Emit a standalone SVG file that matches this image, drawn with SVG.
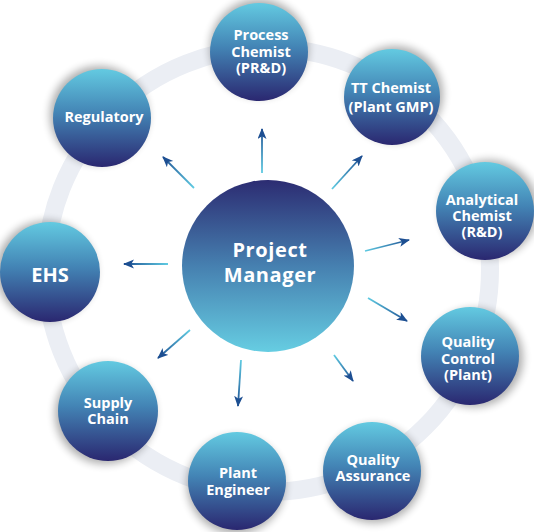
<svg xmlns="http://www.w3.org/2000/svg" xmlns:xlink="http://www.w3.org/1999/xlink" width="534" height="532" viewBox="0 0 534 532">
<style>
.lbl{font-family:"Open Sans","Liberation Sans",sans-serif;font-weight:700;font-size:14.5px;fill:#ffffff;text-anchor:middle}
.big{font-size:20px}
.pm{font-size:20px;letter-spacing:0.6px}
.node{fill:url(#og)}
.sh{fill:#000;opacity:0.32;filter:url(#blur)}
.arr{stroke-width:1.8;fill:none;marker-end:url(#ah)}
</style>
<defs>
<linearGradient id="og" x1="0" y1="0" x2="0" y2="1">
<stop offset="0" stop-color="#63cae1"/>
<stop offset="0.45" stop-color="#4384b5"/>
<stop offset="1" stop-color="#2a2770"/>
</linearGradient>
<linearGradient id="cg" x1="0" y1="0" x2="0" y2="1">
<stop offset="0" stop-color="#2c2c72"/>
<stop offset="0.5" stop-color="#4680b0"/>
<stop offset="1" stop-color="#66cde2"/>
</linearGradient>
<linearGradient id="ag">
<stop offset="0" stop-color="#5fcbe2"/>
<stop offset="1" stop-color="#1d4f92"/>
</linearGradient>
<linearGradient id="a1" href="#ag" xlink:href="#ag" gradientUnits="userSpaceOnUse" x1="262" y1="173" x2="262" y2="129"/>
<linearGradient id="a2" href="#ag" xlink:href="#ag" gradientUnits="userSpaceOnUse" x1="332" y1="189" x2="362" y2="156"/>
<linearGradient id="a3" href="#ag" xlink:href="#ag" gradientUnits="userSpaceOnUse" x1="365" y1="251" x2="409" y2="240"/>
<linearGradient id="a4" href="#ag" xlink:href="#ag" gradientUnits="userSpaceOnUse" x1="368" y1="298" x2="407" y2="321"/>
<linearGradient id="a5" href="#ag" xlink:href="#ag" gradientUnits="userSpaceOnUse" x1="334" y1="355" x2="353" y2="381"/>
<linearGradient id="a6" href="#ag" xlink:href="#ag" gradientUnits="userSpaceOnUse" x1="241" y1="360" x2="238" y2="406"/>
<linearGradient id="a7" href="#ag" xlink:href="#ag" gradientUnits="userSpaceOnUse" x1="190" y1="330" x2="158" y2="358"/>
<linearGradient id="a8" href="#ag" xlink:href="#ag" gradientUnits="userSpaceOnUse" x1="168" y1="264" x2="124" y2="264"/>
<linearGradient id="a9" href="#ag" xlink:href="#ag" gradientUnits="userSpaceOnUse" x1="194" y1="188" x2="163" y2="157"/>
<filter id="blur" x="-30%" y="-30%" width="160%" height="160%">
<feGaussianBlur stdDeviation="4"/>
</filter>
<marker id="ah" markerUnits="userSpaceOnUse" markerWidth="12" markerHeight="10" refX="10" refY="4.5" orient="auto">
<path d="M0,0 L11,4.5 L0,9 L2.8,4.5 Z" fill="#1d4f92"/>
</marker>
</defs>

<rect width="534" height="532" fill="#ffffff"/>
<circle cx="268" cy="270" r="222" fill="none" stroke="#ebeef4" stroke-width="18"/>

<g id="connectors">
<line class="arr" x1="262" y1="173" x2="262" y2="129" stroke="url(#a1)"/>
<line class="arr" x1="332" y1="189" x2="362" y2="156" stroke="url(#a2)"/>
<line class="arr" x1="365" y1="251" x2="409" y2="240" stroke="url(#a3)"/>
<line class="arr" x1="368" y1="298" x2="407" y2="321" stroke="url(#a4)"/>
<line class="arr" x1="334" y1="355" x2="353" y2="381" stroke="url(#a5)"/>
<line class="arr" x1="241" y1="360" x2="238" y2="406" stroke="url(#a6)"/>
<line class="arr" x1="190" y1="330" x2="158" y2="358" stroke="url(#a7)"/>
<line class="arr" x1="168" y1="264" x2="124" y2="264" stroke="url(#a8)"/>
<line class="arr" x1="194" y1="188" x2="163" y2="157" stroke="url(#a9)"/>
</g>

<g id="project-manager">
<circle cx="268" cy="266" r="86" fill="url(#cg)"/>
<text class="lbl pm"><tspan x="270" y="257">Project</tspan><tspan x="270" y="282">Manager</tspan></text>
</g>

<g id="process-chemist">
<circle class="sh" cx="259" cy="48" r="49"/>
<circle class="node" cx="259" cy="52" r="49"/>
<text class="lbl"><tspan x="261" y="40">Process</tspan><tspan x="261" y="56.5">Chemist</tspan><tspan x="261" y="73">(PR&amp;D)</tspan></text>
</g>

<g id="tt-chemist">
<circle class="sh" cx="395" cy="94" r="48"/>
<circle class="node" cx="392" cy="97" r="48"/>
<text class="lbl"><tspan x="391" y="93">TT Chemist</tspan><tspan x="391" y="112">(Plant GMP)</tspan></text>
</g>

<g id="analytical-chemist">
<circle class="sh" cx="489" cy="209" r="49"/>
<circle class="node" cx="485" cy="211" r="49"/>
<text class="lbl"><tspan x="482" y="205">Analytical</tspan><tspan x="482" y="221">Chemist</tspan><tspan x="482" y="237">(R&amp;D)</tspan></text>
</g>

<g id="quality-control">
<circle class="sh" cx="474" cy="358" r="49"/>
<circle class="node" cx="470" cy="356" r="49"/>
<text class="lbl"><tspan x="468" y="347">Quality</tspan><tspan x="468" y="364">Control</tspan><tspan x="468" y="380">(Plant)</tspan></text>
</g>

<g id="quality-assurance">
<circle class="sh" cx="374" cy="474" r="49"/>
<circle class="node" cx="372" cy="471" r="49"/>
<text class="lbl"><tspan x="373" y="465">Quality</tspan><tspan x="373" y="481">Assurance</tspan></text>
</g>

<g id="plant-engineer">
<circle class="sh" cx="236" cy="485" r="49"/>
<circle class="node" cx="237" cy="481" r="49"/>
<text class="lbl"><tspan x="238" y="478">Plant</tspan><tspan x="238" y="495">Engineer</tspan></text>
</g>

<g id="supply-chain">
<circle class="sh" cx="105" cy="414" r="50"/>
<circle class="node" cx="108" cy="411" r="50"/>
<text class="lbl"><tspan x="108" y="408">Supply</tspan><tspan x="108" y="424">Chain</tspan></text>
</g>

<g id="ehs">
<circle class="sh" cx="46" cy="271" r="50"/>
<circle class="node" cx="50" cy="272" r="50"/>
<text class="lbl big" x="50" y="282">EHS</text>
</g>

<g id="regulatory">
<circle class="sh" cx="99" cy="115" r="49"/>
<circle class="node" cx="102" cy="118" r="49"/>
<text class="lbl" x="104" y="122">Regulatory</text>
</g>
</svg>
